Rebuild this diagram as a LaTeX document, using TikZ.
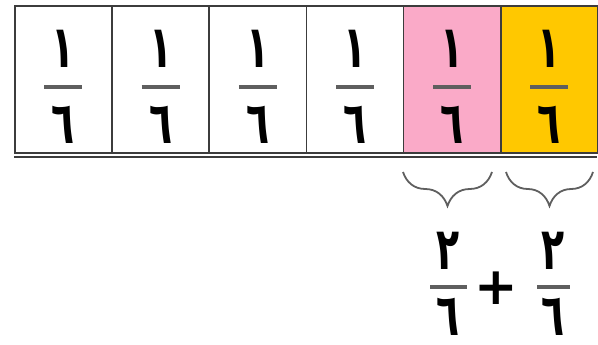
\documentclass[tikz,border=0pt]{standalone}
\usepackage{fontspec}
\newfontfamily\arabicfont[Script=Arabic]{DejaVu Sans}
\usetikzlibrary{decorations.pathreplacing}
\definecolor{pinkcell}{RGB}{250,170,200}
\definecolor{goldcell}{RGB}{255,200,0}
\definecolor{barcol}{RGB}{95,95,95}
\definecolor{edgecol}{RGB}{60,60,60}
\newcommand{\talldigit}[1]{\scalebox{0.9}[1.4]{#1}}
\tikzset{
  cell/.style={draw=edgecol, line width=1.6pt, minimum width=97.2pt, minimum height=147pt, inner sep=0pt, anchor=north west},
  digit/.style={font=\arabicfont\bfseries\fontsize{42}{42}\selectfont, inner sep=0pt, anchor=base},
  fracbar/.style={draw=barcol, line width=3.5pt},
  bracestyle/.style={draw=barcol, line width=1.8pt, decorate, decoration={brace, mirror, amplitude=34pt}},
}
\begin{document}
\begin{tikzpicture}[x=1pt,y=-1pt]
\useasboundingbox (0,0) rectangle (598,345);
\node[cell, fill=white] (c1) at (14,5) {};
\node[cell, fill=white] (c2) at (111.2,5) {};
\node[cell, fill=white] (c3) at (208.4,5) {};
\node[cell, fill=white] (c4) at (305.6,5) {};
\node[cell, fill=pinkcell] (c5) at (402.8,5) {};
\node[cell, fill=goldcell] (c6) at (500,5) {};
\coordinate (bl) at (14,157);
\coordinate (br) at (597.2,157);
\draw[edgecol, line width=1.6pt] (bl) -- (br);
\foreach \i in {1,...,6}{
  \path (c\i.north) ++(0,63) node[digit] (n\i) {\talldigit{١}};
  \path (c\i.north) ++(0,138) node[digit] (d\i) {\talldigit{٦}};
  \draw[fracbar] ([xshift=-19pt,yshift=-82pt]c\i.north) -- ([xshift=19pt,yshift=-82pt]c\i.north);
}
\coordinate (b1s) at (403,172);
\coordinate (b1e) at (492,172);
\coordinate (b2s) at (506,172);
\coordinate (b2e) at (593,172);
\draw[bracestyle] (b1s) -- (b1e);
\draw[bracestyle] (b2s) -- (b2e);
\node[digit] (sn1) at (448,269) {\talldigit{٢}};
\node[digit] (sd1) at (448,335) {\talldigit{٦}};
\draw[fracbar] (430,287) -- (467,287);
\node[digit] (sn2) at (553,269) {\talldigit{٢}};
\node[digit] (sd2) at (553,335) {\talldigit{٦}};
\draw[fracbar] (537,287) -- (570,287);
\node[font=\arabicfont\bfseries\fontsize{52}{52}\selectfont, inner sep=0pt] (plus) at (496,288) {+};
\end{tikzpicture}
\end{document}
